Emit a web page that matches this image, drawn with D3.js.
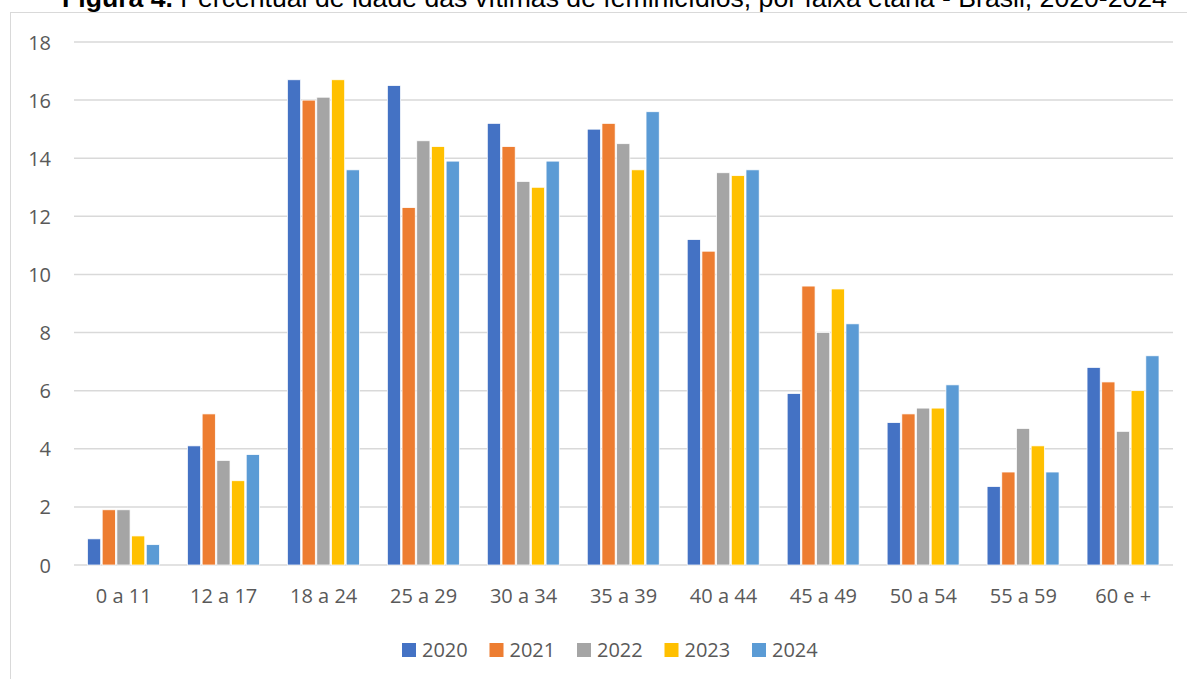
<!DOCTYPE html>
<html>
<head>
<meta charset="utf-8">
<script src="https://cdn.jsdelivr.net/npm/d3@7/dist/d3.min.js"></script>
<style>
  html, body { margin: 0; padding: 0; background: #fff; }
  svg { display: block; }
</style>
</head>
<body>
<svg id="chart" width="1187" height="679"></svg>
<script>
const categories = ["0 a 11", "12 a 17", "18 a 24", "25 a 29", "30 a 34", "35 a 39", "40 a 44", "45 a 49", "50 a 54", "55 a 59", "60 e +"];
const years = ["2020", "2021", "2022", "2023", "2024"];
const values2020 = [0.9, 4.1, 16.7, 16.5, 15.2, 15.0, 11.2, 5.9, 4.9, 2.7, 6.8];
const values2021 = [1.9, 5.2, 16.0, 12.3, 14.4, 15.2, 10.8, 9.6, 5.2, 3.2, 6.3];
const values2022 = [1.9, 3.6, 16.1, 14.6, 13.2, 14.5, 13.5, 8.0, 5.4, 4.7, 4.6];
const values2023 = [1.0, 2.9, 16.7, 14.4, 13.0, 13.6, 13.4, 9.5, 5.4, 4.1, 6.0];
const values2024 = [0.7, 3.8, 13.6, 13.9, 13.9, 15.6, 13.6, 8.3, 6.2, 3.2, 7.2];
const yTicks = [0, 2, 4, 6, 8, 10, 12, 14, 16, 18];
const colors = ["#4472C4", "#ED7D31", "#A5A5A5", "#FFC000", "#5B9BD5"];
const titleBold = "Figura 4.";
const titleRest = " Percentual de idade das vítimas de feminicídios, por faixa etária - Brasil, 2020-2024";

const seriesValues = [values2020, values2021, values2022, values2023, values2024];
const data = categories.map((c, i) => ({ cat: c, vals: years.map((y, j) => ({ year: y, v: seriesValues[j][i], k: j })) }));

const svg = d3.select("#chart");
const font = "'Open Sans', sans-serif";

// chart frame
svg.append("rect")
  .attr("x", 10.5).attr("y", 12.5)
  .attr("width", 1200).attr("height", 700)
  .attr("fill", "#fff").attr("stroke", "#d9d9d9").attr("stroke-width", 1);

// title (partially clipped at top, as in the reference)
const title = svg.append("text")
  .attr("x", 62).attr("y", 7)
  .attr("font-family", "'Liberation Sans', Arial, sans-serif")
  .attr("font-size", 22)
  .attr("fill", "#000");
title.append("tspan").attr("font-weight", "bold").text(titleBold);
title.append("tspan").text(titleRest);
const tw = title.node().getComputedTextLength();
title.attr("font-size", 22 * 1105 / tw);

const x0 = d3.scaleBand().domain(categories).range([74, 1173]).paddingInner(0.265).paddingOuter(0.13);
const x1 = d3.scaleBand().domain(years).range([0, x0.bandwidth()]).padding(0);
const y = d3.scaleLinear().domain([0, 18]).range([565, 42]);

// gridlines
svg.append("g")
  .selectAll("line").data(yTicks).join("line")
  .attr("x1", 74).attr("x2", 1173)
  .attr("y1", d => y(d)).attr("y2", d => y(d))
  .attr("stroke", "#d9d9d9").attr("stroke-width", 1.5);

// y axis labels
const yAxis = d3.axisLeft(y).tickValues(yTicks).tickSize(0).tickPadding(0);
const gy = svg.append("g").attr("transform", "translate(51,0)").call(yAxis);
gy.select(".domain").remove();
gy.selectAll("text").attr("font-family", font).attr("font-size", 20).attr("fill", "#595959").attr("dy", "0.35em");

// bars
const groups = svg.append("g").selectAll("g").data(data).join("g")
  .attr("transform", d => `translate(${x0(d.cat)},0)`);
groups.selectAll("rect").data(d => d.vals).join("rect")
  .attr("x", d => x1(d.year) + 0.5)
  .attr("width", x1.bandwidth() - 1.5)
  .attr("y", d => y(d.v))
  .attr("height", d => y(0) - y(d.v))
  .attr("fill", d => colors[d.k])
  .attr("stroke", "#fff").attr("stroke-width", 0.75);

// x axis labels
const xAxis = d3.axisBottom(x0).tickSize(0).tickPadding(0);
const gx = svg.append("g").attr("transform", "translate(0,589)").call(xAxis);
gx.select(".domain").remove();
gx.selectAll("text").attr("font-family", font).attr("font-size", 20).attr("fill", "#595959").attr("dy", "0.71em");

// legend
const legendX = d3.scalePoint().domain(years).range([402, 752]);
const lg = svg.append("g").selectAll("g").data(years).join("g")
  .attr("transform", d => `translate(${legendX(d)},643)`);
lg.append("rect").attr("width", 14).attr("height", 14).attr("fill", (d, i) => colors[i]);
lg.append("text").attr("x", 20).attr("y", 7).attr("dy", "0.35em")
  .attr("font-family", font).attr("font-size", 20).attr("fill", "#595959")
  .text(d => d);
</script>
</body>
</html>
